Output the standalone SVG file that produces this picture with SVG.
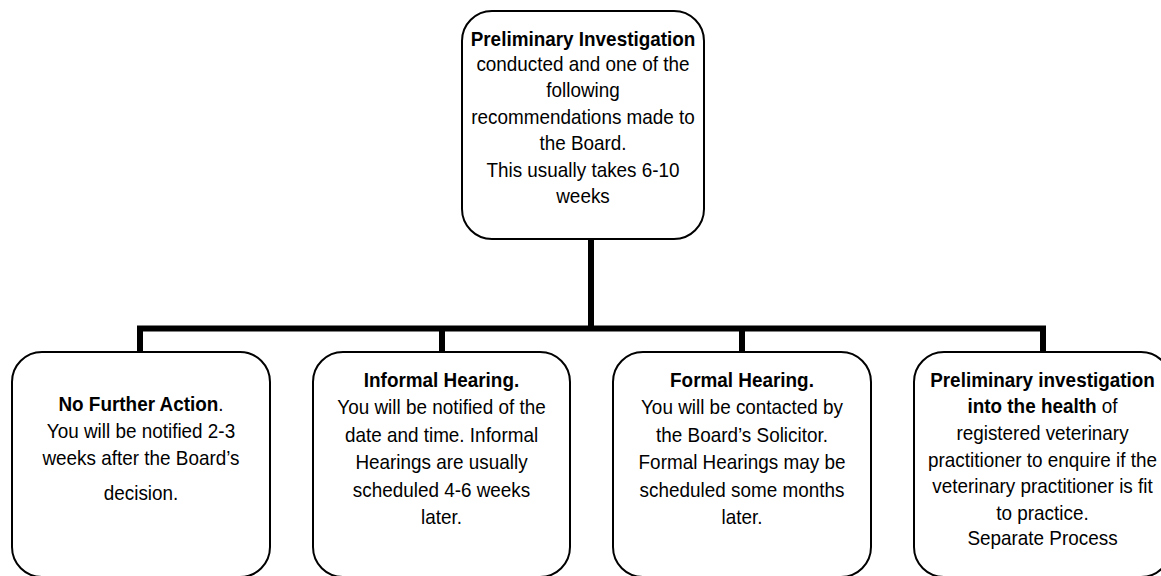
<svg xmlns="http://www.w3.org/2000/svg" width="1161" height="576" viewBox="0 0 1161 576">
  <style>
    .box { fill: #ffffff; stroke: #000000; stroke-width: 2; }
    .conn { fill: none; stroke: #000000; stroke-width: 6; stroke-linejoin: miter; stroke-linecap: butt; }
    text { font-family: "Liberation Sans", Arial, sans-serif; font-size: 21px; fill: #000000; text-anchor: middle; }
    .b { font-weight: bold; }
  </style>
  <rect width="1161" height="576" fill="#ffffff"/>

  <g id="connectors">
    <polyline class="conn" points="140,352 140,328.5 1043,328.5 1043,352"/>
    <line class="conn" x1="591" y1="239" x2="591" y2="328.5"/>
    <line class="conn" x1="442" y1="328.5" x2="442" y2="352"/>
    <line class="conn" x1="742" y1="328.5" x2="742" y2="352"/>
  </g>

  <g id="node-preliminary">
    <rect class="box" x="462" y="11" width="242" height="228" rx="30" ry="30"/>
    <g transform="translate(583,0) scale(0.9,1)">
      <text x="0" y="46" class="b">Preliminary Investigation</text>
      <text x="0" y="71">conducted and one of the</text>
      <text x="0" y="97">following</text>
      <text x="0" y="124">recommendations made to</text>
      <text x="0" y="150">the Board.</text>
      <text x="0" y="177">This usually takes 6-10</text>
      <text x="0" y="203">weeks</text>
    </g>
  </g>

  <g id="node-no-further-action">
    <rect class="box" x="12" y="352" width="258" height="225" rx="30" ry="30"/>
    <g transform="translate(141,0) scale(0.9,1)">
      <text x="0" y="411"><tspan class="b">No Further Action</tspan>.</text>
      <text x="0" y="438">You will be notified 2-3</text>
      <text x="0" y="465">weeks after the Board’s</text>
      <text x="0" y="500">decision.</text>
    </g>
  </g>

  <g id="node-informal-hearing">
    <rect class="box" x="313" y="352" width="257" height="225" rx="30" ry="30"/>
    <g transform="translate(441.5,0) scale(0.9,1)">
      <text x="0" y="387" class="b">Informal Hearing.</text>
      <text x="0" y="414">You will be notified of the</text>
      <text x="0" y="442">date and time. Informal</text>
      <text x="0" y="469">Hearings are usually</text>
      <text x="0" y="497">scheduled 4-6 weeks</text>
      <text x="0" y="524">later.</text>
    </g>
  </g>

  <g id="node-formal-hearing">
    <rect class="box" x="613" y="352" width="258" height="225" rx="30" ry="30"/>
    <g transform="translate(742,0) scale(0.9,1)">
      <text x="0" y="387" class="b">Formal Hearing.</text>
      <text x="0" y="414">You will be contacted by</text>
      <text x="0" y="442">the Board’s Solicitor.</text>
      <text x="0" y="469">Formal Hearings may be</text>
      <text x="0" y="497">scheduled some months</text>
      <text x="0" y="524">later.</text>
    </g>
  </g>

  <g id="node-health-investigation">
    <rect class="box" x="914" y="352" width="257" height="225" rx="30" ry="30"/>
    <g transform="translate(1042.5,0) scale(0.9,1)">
      <text x="0" y="387" class="b">Preliminary investigation</text>
      <text x="0" y="413"><tspan class="b">into the health</tspan> of</text>
      <text x="0" y="440">registered veterinary</text>
      <text x="0" y="467">practitioner to enquire if the</text>
      <text x="0" y="493">veterinary practitioner is fit</text>
      <text x="0" y="520">to practice.</text>
      <text x="0" y="545">Separate Process</text>
    </g>
  </g>
</svg>
